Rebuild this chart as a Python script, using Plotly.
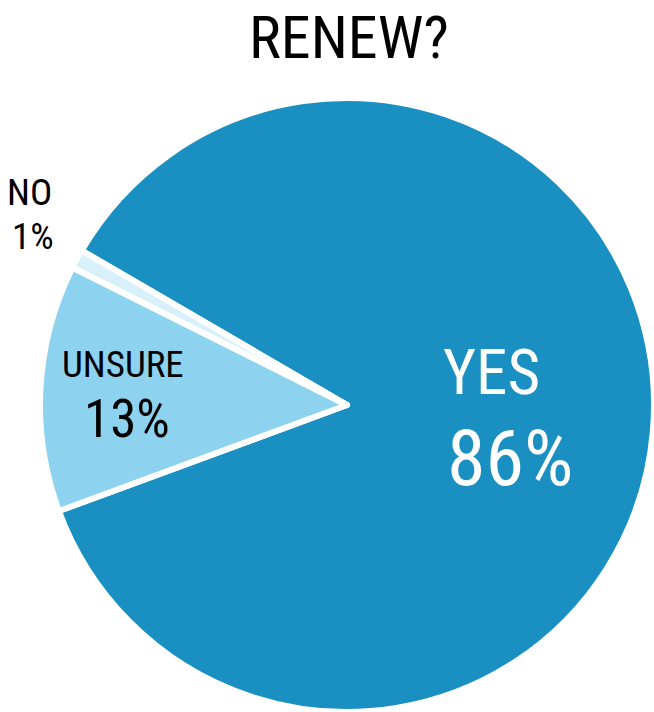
import plotly.graph_objects as go

# Survey answers, in clockwise order starting from the upper-left edge
labels = ["YES", "UNSURE", "NO"]
values = [86, 13, 1]
colors = ["#1a90c2", "#8dd3f0", "#d7f0fa"]

W, H = 654, 712
FONT = "Roboto Condensed, Liberation Sans Narrow, DejaVu Sans Condensed, Roboto, sans-serif"

# pie placement in pixels
cx, cy, r = 347, 405, 307

fig = go.Figure(
    go.Pie(
        labels=labels,
        values=values,
        sort=False,
        direction="clockwise",
        rotation=-59.8,
        marker=dict(colors=colors, line=dict(color="white", width=6)),
        textinfo="none",
        hoverinfo="label+percent",
        showlegend=False,
        domain=dict(
            x=[(cx - r) / W, min(1, (cx + r) / W)],
            y=[max(0, 1 - (cy + r) / H), 1 - (cy - r) / H],
        ),
    )
)

total = sum(values)
pct = [f"{round(v / total * 100)}%" for v in values]


def px(x, y):
    return x / W, 1 - y / H


# label styling: (name pos, name size, pct pos, pct size, colour)
label_style = {
    "YES": ((491, 372), 63, (510, 458), 78, "white"),
    "UNSURE": ((123, 365), 37, (127, 419), 53, "black"),
    "NO": ((29, 192), 37, (33, 236), 37, "black"),
}

annotations = []
for name, p in zip(labels, pct):
    (nx, ny), ns, (qx, qy), qs, col = label_style[name]
    for txt, (x, y), s in ((name, (nx, ny), ns), (p, (qx, qy), qs)):
        ax, ay = px(x, y)
        annotations.append(
            dict(
                x=ax, y=ay, xref="paper", yref="paper",
                xanchor="center", yanchor="middle",
                text=txt, showarrow=False,
                font=dict(family=FONT, size=s, color=col),
            )
        )

# title, anchored to the top edge of the page
tx, ty = px(349, 0)
annotations.append(
    dict(
        x=tx, y=ty, xref="paper", yref="paper",
        xanchor="center", yanchor="top",
        text="RENEW?", showarrow=False,
        font=dict(family=FONT, size=60, color="black"),
    )
)

fig.update_layout(
    width=W,
    height=H,
    margin=dict(l=0, r=0, t=0, b=0),
    paper_bgcolor="white",
    plot_bgcolor="white",
    annotations=annotations,
)

fig.write_html("out.html")
